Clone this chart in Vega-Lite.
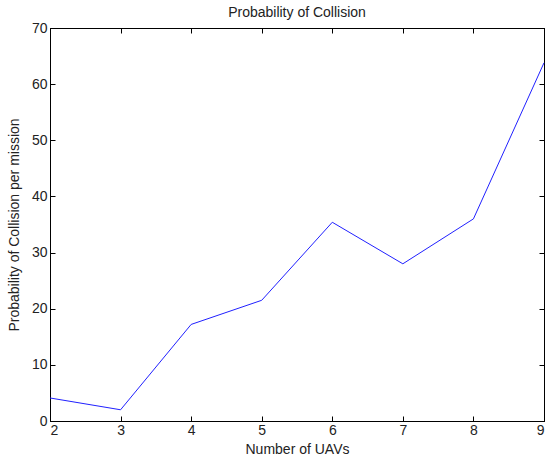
{
  "$schema": "https://vega.github.io/schema/vega-lite/v6.json",
  "autosize": {"type": "none"},
  "padding": {"left": 50, "top": 28, "right": 4, "bottom": 47},
  "width": 494,
  "height": 393,
  "background": "white",
  "title": {"text": "Probability of Collision", "fontSize": 14, "font": "Liberation Sans", "fontWeight": "normal", "color": "#222", "offset": 1},
  "config": {
    "view": {"stroke": "black", "strokeWidth": 1},
    "axis": {"grid": false, "domainColor": "black", "tickColor": "black", "tickSize": -5, "labelFont": "Liberation Sans", "labelFontSize": 14, "labelColor": "#222", "titleFont": "Liberation Sans", "titleFontSize": 14, "titleFontWeight": "normal", "titleColor": "#222"}
  },
  "data": {"values": [
    {"uavs": 2, "p": 4.1},
    {"uavs": 3, "p": 2.0},
    {"uavs": 4, "p": 17.2},
    {"uavs": 5, "p": 21.5},
    {"uavs": 6, "p": 35.4},
    {"uavs": 7, "p": 28.0},
    {"uavs": 8, "p": 36.0},
    {"uavs": 9, "p": 63.8}
  ]},
  "layer": [
    {
      "mark": {"type": "line", "color": "#2020ff", "strokeWidth": 1},
      "encoding": {
        "x": {"field": "uavs", "type": "quantitative", "scale": {"domain": [2, 9], "nice": false, "zero": false}, "axis": {"title": "Number of UAVs", "values": [2,3,4,5,6,7,8,9], "labelPadding": 7, "titlePadding": 5}},
        "y": {"field": "p", "type": "quantitative", "scale": {"domain": [0, 70], "nice": false}, "axis": {"title": "Probability of Collision per mission", "values": [0,10,20,30,40,50,60,70], "labelPadding": 8, "titlePadding": 10}}
      }
    },
    {
      "mark": {"type": "line", "opacity": 0},
      "encoding": {
        "x": {"field": "uavs", "type": "quantitative", "scale": {"domain": [2, 9], "nice": false, "zero": false}, "axis": {"orient": "top", "title": null, "labels": false, "values": [2,3,4,5,6,7,8,9]}},
        "y": {"field": "p", "type": "quantitative", "scale": {"domain": [0, 70], "nice": false}, "axis": {"orient": "right", "title": null, "labels": false, "values": [0,10,20,30,40,50,60,70]}}
      }
    }
  ],
  "resolve": {"scale": {"x": "independent", "y": "independent"}, "axis": {"x": "independent", "y": "independent"}}
}
